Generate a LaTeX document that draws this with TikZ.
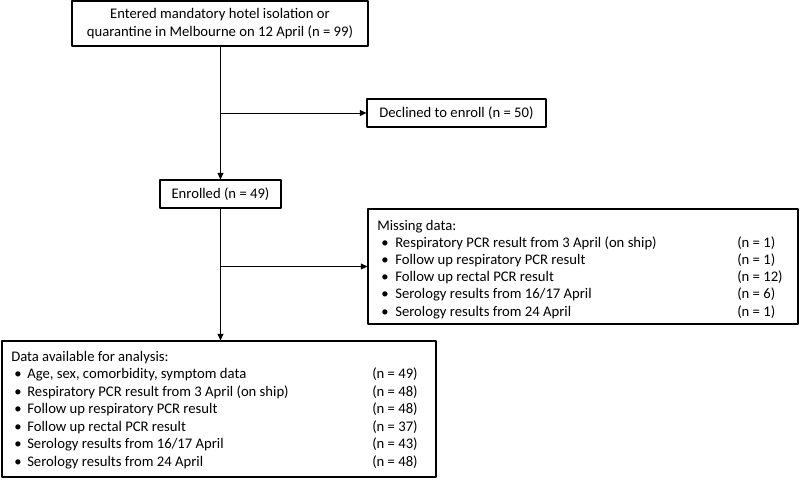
\documentclass[tikz,border=0pt]{standalone}
\usepackage{fontspec}
\setmainfont{Carlito}
\usetikzlibrary{arrows.meta}
\begin{document}
\begin{tikzpicture}[x=0.75pt,y=-0.75pt,>={Triangle[length=5pt,width=4.5pt]},line cap=round,line join=round,font=\fontsize{11}{13.5}\selectfont,
		box/.style={draw,line width=0.8pt,inner sep=0pt,align=center},
		flow/.style={->,line width=0.6pt},
		row/.style={anchor=base west,inner sep=0pt}]
	\useasboundingbox (0,0) rectangle (800,479);
	\node[box,minimum width=222pt,minimum height=33.75pt] (entered) at (220,23.5) {Entered mandatory hotel isolation or\\quarantine in Melbourne on 12 April (n = 99)};
	\node[box,minimum width=134.25pt,minimum height=21pt] (declined) at (456.5,113) {Declined to enroll (n = 50)};
	\node[box,minimum width=90.75pt,minimum height=21pt] (enrolled) at (220.5,194) {Enrolled (n = 49)};
	\node[box,minimum width=322.5pt,minimum height=86.25pt] (missing) at (583,266.5) {};
	\node[box,minimum width=325.5pt,minimum height=102pt] (avail) at (219,409) {};
	\draw[flow] (enrolled.north |- entered.south) -- (enrolled.north);
	\draw[flow] (enrolled.north |- declined.west) -- (declined.west);
	\draw[flow] (enrolled.south) -- (enrolled.south |- avail.north);
	\draw[flow] (enrolled.south |- missing.west) -- (missing.west);
	% missing data list
	\node[row] (mhead) at (377,230) {Missing data:};
	\foreach \txt/\n [count=\i] in {{Respiratory PCR result from 3 April (on ship)}/1,{Follow up respiratory PCR result}/1,{Follow up rectal PCR result}/12,{Serology results from 16/17 April}/6,{Serology results from 24 April}/1}
	{
		\node[row] (mb\i) at (381,230+17.2*\i) {\textbullet};
		\node[row] (mt\i) at (395,230+17.2*\i) {\txt};
		\node[row] (mn\i) at (737,230+17.2*\i) {(n = \n)};
	}
	% data available list
	\node[row] (ahead) at (11,361) {Data available for analysis:};
	\foreach \txt/\n [count=\i] in {{Age, sex, comorbidity, symptom data}/49,{Respiratory PCR result from 3 April (on ship)}/48,{Follow up respiratory PCR result}/48,{Follow up rectal PCR result}/37,{Serology results from 16/17 April}/43,{Serology results from 24 April}/48}
	{
		\node[row] (ab\i) at (14,361+17.5*\i) {\textbullet};
		\node[row] (at\i) at (27,361+17.5*\i) {\txt};
		\node[row] (an\i) at (372,361+17.5*\i) {(n = \n)};
	}
\end{tikzpicture}
\end{document}
